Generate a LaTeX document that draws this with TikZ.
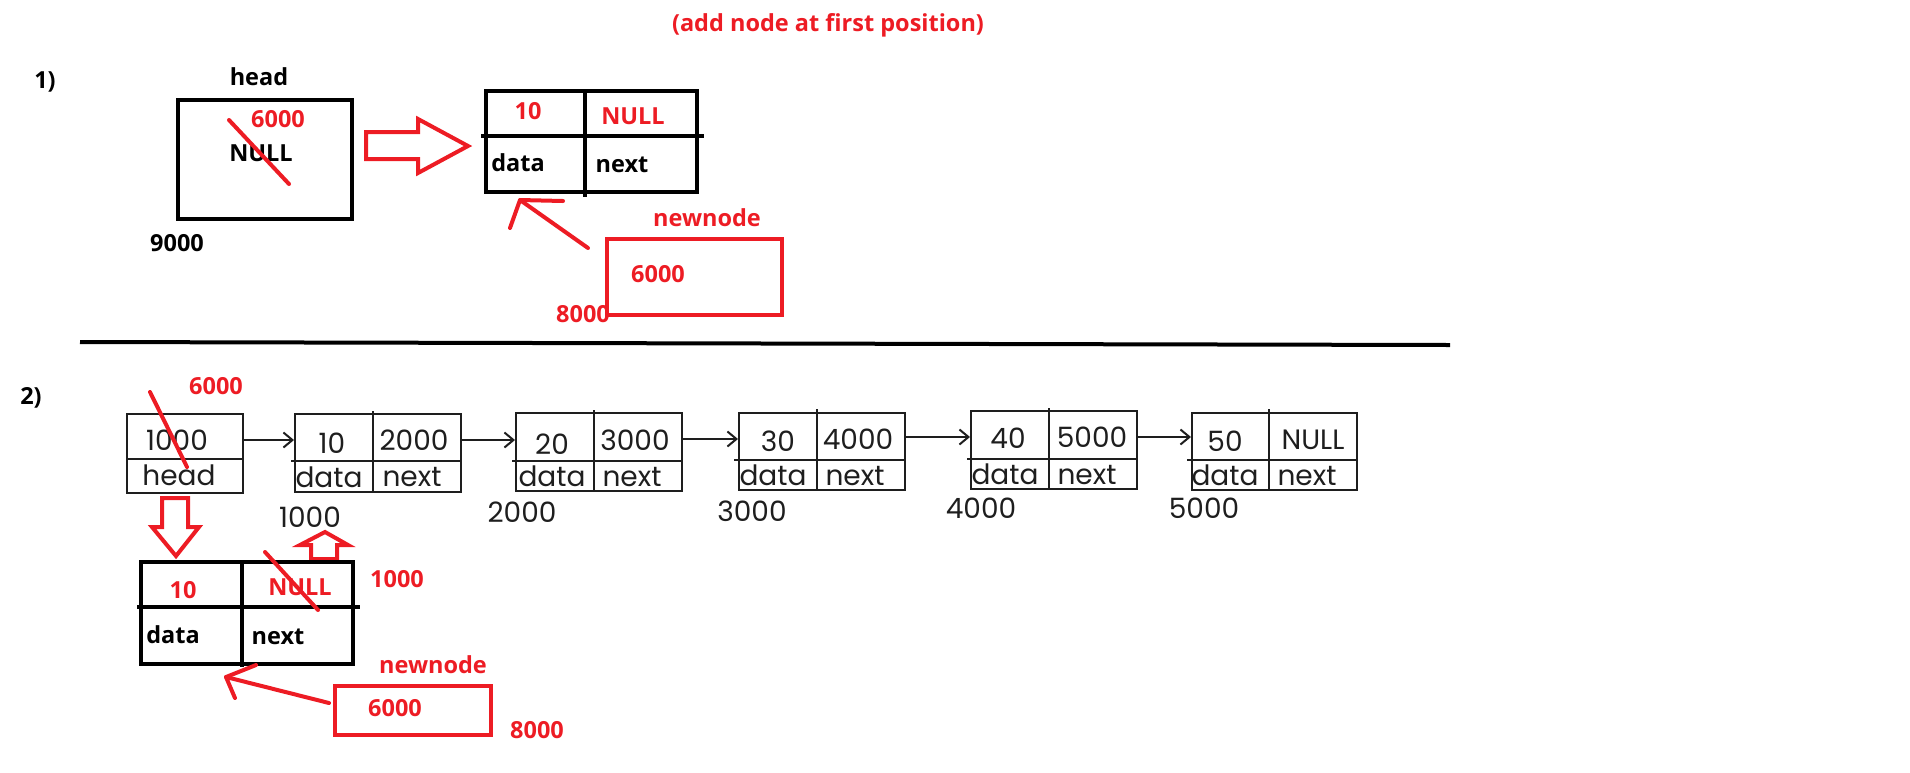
\documentclass[tikz,border=0pt]{standalone}
\usepackage{fontspec}
\setmainfont{Open Sans}
\newfontfamily\chainf{Poppins}
\usetikzlibrary{arrows.meta,calc}
\definecolor{pred}{RGB}{237,28,36}
\definecolor{pgray}{RGB}{30,30,30}
\tikzset{
  lbl/.style={inner sep=0pt,font=\fontsize{23.5}{25}\selectfont\bfseries,text=black},
  rlbl/.style={lbl,text=pred},
  ctext/.style={inner sep=0pt,font=\chainf\fontsize{28}{30}\selectfont,text=pgray},
  bbox/.style={draw=black,line width=4.5pt,inner sep=0pt},
  blk/.style={draw=black,line width=4.5pt},
  rbox/.style={draw=pred,line width=4.5pt,inner sep=0pt},
  rline/.style={draw=pred,line width=4pt,line cap=round,line join=round},
  cbox/.style={draw=pgray,line width=2pt,inner sep=0pt},
  cline/.style={draw=pgray,line width=2pt},
  carrow/.style={draw=pgray,line width=2pt,-{Straight Barb[length=9pt,width=15pt,line width=2pt]}},
}
\begin{document}
\begin{tikzpicture}[x=1pt,y=-1pt]
\useasboundingbox (0,0) rectangle (1910,772);
% title
\node[rlbl] (title) at (828,25) {(add node at first position)};
% ---------- part 1 ----------
\node[lbl] (one) at (45,82) {1)};
\node[lbl] (headlbl) at (259,77) {head};
\node[bbox,minimum width=174pt,minimum height=119pt] (hbox) at (265,159.5) {};
\node[rlbl] (h6000) at (278,119) {6000};
\node[lbl] (hnull) at (261,153) {NULL};
\draw[rline] (229,120) -- (289,184);
\node[lbl] (n9000) at (177,243) {9000};
% block arrow
\draw[rline,line cap=butt,line join=miter] (366,132) -- (418,132) -- (418,119) -- (468,146) -- (418,173) -- (418,159) -- (366,159) -- cycle;
% struct
\node[bbox,minimum width=211pt,minimum height=101pt] (s1) at (591.5,141.5) {};
\draw[blk] (481,136) -- (704,136);
\draw[blk] (585,91) -- (585,197);
\node[rlbl] (s1d) at (528,111) {10};
\node[rlbl] (s1n) at (633,116) {NULL};
\node[lbl] (s1data) at (518,163) {data};
\node[lbl] (s1next) at (622,165) {next};
% newnode 1
\node[rlbl] (nn1lbl) at (707,218) {newnode};
\node[rbox,minimum width=175pt,minimum height=76pt] (nn1) at (694.5,277) {};
\node[rlbl] (nn1v) at (658,274) {6000};
\node[rlbl] (nn1a) at (583,314) {8000};
\coordinate (p1tail) at (588,248);
\coordinate (p1tip) at (520,200);
\coordinate (p1b1) at (563,201);
\coordinate (p1b2) at (510,228);
\draw[rline] (p1tail) -- (p1tip);
\draw[rline] (p1b1) -- (p1tip) -- (p1b2);
% separator
\coordinate (sepL) at (80,342);
\coordinate (sepR) at (1450,345);
\draw[black,line width=4pt] (sepL) -- (sepR);
% ---------- part 2 ----------
\node[lbl] (two) at (31,398) {2)};
\node[rlbl] (c6000) at (216,386) {6000};
% head box
\node[cbox,minimum width=116pt,minimum height=79pt] (hb) at (185,453.5) {};
\draw[cline] (127,459) -- (243,459);
\node[ctext] (hv) at (177,440) {1000};
\node[ctext] (hh) at (179,475) {head};
\draw[rline] (150,392) -- (187,467);
% node 1
\node[cbox,minimum width=166pt,minimum height=78pt] (c1) at (378,453) {};
\draw[cline] (291,461) -- (461,461);
\draw[cline] (373,411) -- (373,492);
\node[ctext] (c1d) at (332,443) {10};
\node[ctext] (c1n) at (414,440) {2000};
\node[ctext] (c1a) at (329,477) {data};
\node[ctext] (c1b) at (412,477) {next};
\node[ctext] (c1addr) at (310,517) {1000};
% node 2
\node[cbox,minimum width=166pt,minimum height=78pt] (c2) at (599,452) {};
\draw[cline] (512,461) -- (682,461);
\draw[cline] (594,410) -- (594,491);
\node[ctext] (c2d) at (552,444) {20};
\node[ctext] (c2n) at (635,440) {3000};
\node[ctext] (c2a) at (552,476) {data};
\node[ctext] (c2b) at (632,477) {next};
\node[ctext] (c2addr) at (522,512) {2000};
% node 3
\node[cbox,minimum width=166pt,minimum height=77pt] (c3) at (822,451.5) {};
\draw[cline] (734,460) -- (905,460);
\draw[cline] (817,409) -- (817,490);
\node[ctext] (c3d) at (778,441) {30};
\node[ctext] (c3n) at (858,439) {4000};
\node[ctext] (c3a) at (773,475) {data};
\node[ctext] (c3b) at (855,476) {next};
\node[ctext] (c3addr) at (752,511) {3000};
% node 4
\node[cbox,minimum width=166pt,minimum height=78pt] (c4) at (1054,450) {};
\draw[cline] (967,459) -- (1137,459);
\draw[cline] (1049,408) -- (1049,489);
\node[ctext] (c4d) at (1008,438) {40};
\node[ctext] (c4n) at (1092,437) {5000};
\node[ctext] (c4a) at (1005,474) {data};
\node[ctext] (c4b) at (1087,475) {next};
\node[ctext] (c4addr) at (981,508) {4000};
% node 5
\node[cbox,minimum width=165pt,minimum height=77pt] (c5) at (1274.5,451.5) {};
\draw[cline] (1187,460) -- (1357,460);
\draw[cline] (1269,409) -- (1269,490);
\node[ctext] (c5d) at (1225,441) {50};
\node[ctext] (c5n) at (1313,440) {NULL};
\node[ctext] (c5a) at (1225,475) {data};
\node[ctext] (c5b) at (1307,476) {next};
\node[ctext] (c5addr) at (1204,508) {5000};
% chain arrows
\draw[carrow] (hb.east |- hv) -- (c1.west |- hv);
\draw[carrow] (c1.east |- c1n) -- (c2.west |- c1n);
\draw[carrow] (c2.east |- c3n) -- (c3.west |- c3n);
\draw[carrow] (c3.east |- c4n) -- (c4.west |- c4n);
\draw[carrow] (c4.east |- c4n) -- (c5.west |- c4n);
% red block arrows
\draw[rline,line cap=butt,line join=miter] (162,498) -- (188,498) -- (188,527) -- (199,527) -- (176,556) -- (152,527) -- (162,527) -- cycle;
\draw[rline,line cap=butt,line join=miter] (311,559) -- (337,559) -- (337,545) -- (348,545) -- (325,532) -- (300,545) -- (311,545) -- cycle;
% bottom struct
\node[bbox,minimum width=212pt,minimum height=102pt] (s2) at (247,613) {};
\draw[blk] (137,607) -- (360,607);
\draw[blk] (242,562) -- (242,667);
\node[rlbl] (s2d) at (183,590) {10};
\node[rlbl] (s2n) at (300,587) {NULL};
\draw[rline] (265,552) -- (318,610);
\node[lbl] (s2data) at (173,635) {data};
\node[lbl] (s2next) at (278,637) {next};
\node[rlbl] (s2addr) at (397,579) {1000};
% newnode 2
\node[rlbl] (nn2lbl) at (433,665) {newnode};
\node[rbox,minimum width=156pt,minimum height=49pt] (nn2) at (413,710.5) {};
\node[rlbl] (nn2v) at (395,708) {6000};
\node[rlbl] (nn2a) at (537,730) {8000};
\coordinate (p2tail) at (329,703);
\coordinate (p2tip) at (226,677);
\coordinate (p2b1) at (256,665);
\coordinate (p2b2) at (235,698);
\draw[rline] (p2tail) -- (p2tip);
\draw[rline] (p2b1) -- (p2tip) -- (p2b2);
\end{tikzpicture}
\end{document}
